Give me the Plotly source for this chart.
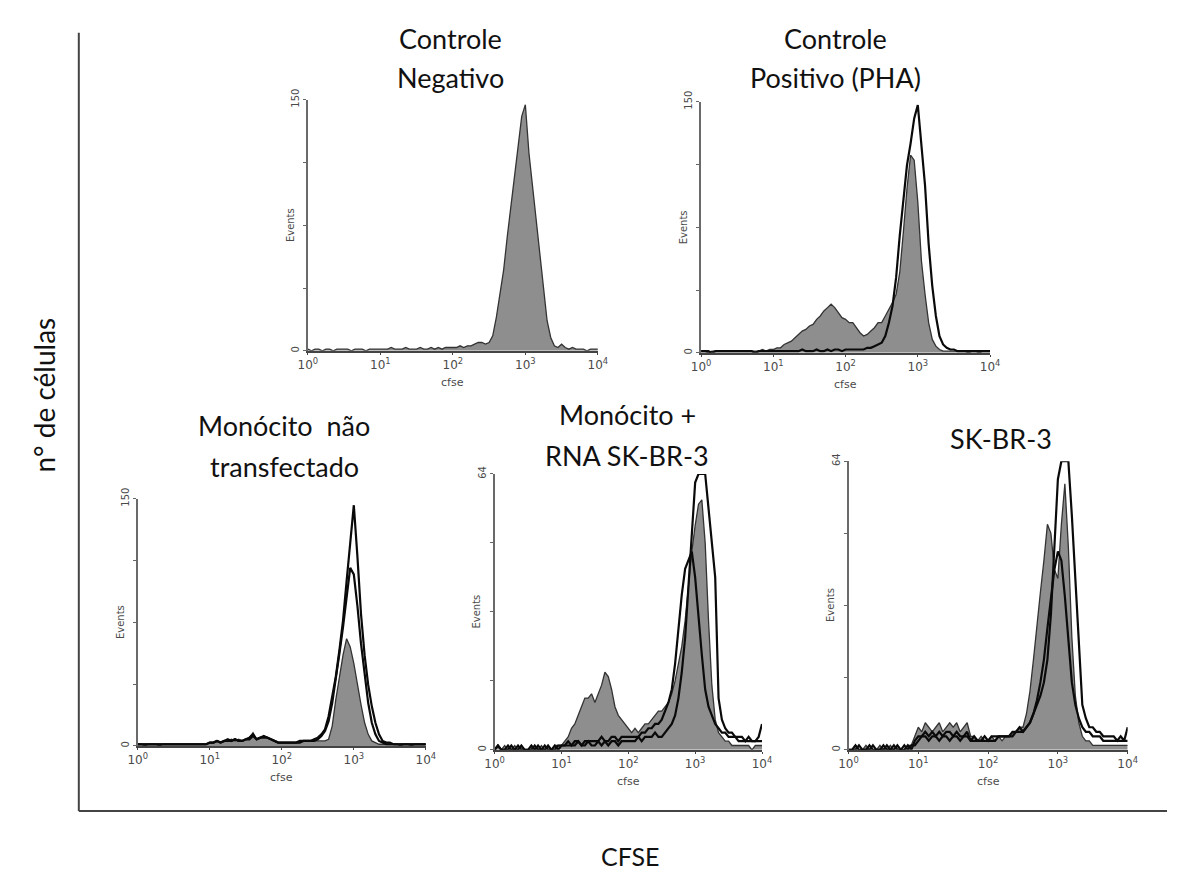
import plotly.graph_objects as go

# ---------------- data ----------------
# CFSE histogram bins (log10 of fluorescence), 0.05-decade bins from 10^0 to 10^4
CFSE_LOG10_BINS = [round(0.05 * i, 2) for i in range(81)]
X_TICK_VALUES = [1, 10, 100, 1000, 10000]
X_TICK_LABELS = ["10<sup>0</sup>", "10<sup>1</sup>", "10<sup>2</sup>", "10<sup>3</sup>", "10<sup>4</sup>"]

# Panel 1: Controle Negativo (Events, max 150)
NEG_GREY = [1, 0, 1, 1, 0, 1, 1, 0, 1, 1,
            1, 1, 0, 1, 1, 1, 0, 1, 1, 1,
            1, 1, 1, 2, 1, 1, 1, 2, 1, 1,
            1, 2, 1, 1, 2, 1, 2, 1, 2, 2,
            2, 2, 3, 2, 3, 3, 4, 5, 5, 4,
            5, 9, 20, 33, 48, 68, 85, 102, 122, 140,
            147, 118, 98, 75, 55, 35, 18, 8, 3, 2,
            4, 2, 1, 2, 1, 1, 1, 0, 1, 1,
            1]

# Panel 2: Controle Positivo (PHA)
PHA_GREY = [1, 1, 0, 1, 1, 1, 1, 1, 1, 1,
            1, 1, 1, 1, 1, 1, 1, 2, 1, 2,
            2, 3, 3, 5, 6, 7, 9, 11, 13, 14,
            16, 17, 20, 22, 25, 27, 29, 27, 24, 21,
            20, 18, 18, 15, 12, 10, 11, 13, 15, 18,
            18, 22, 26, 30, 35, 48, 72, 98, 118, 115,
            90, 55, 35, 18, 8, 4, 2, 1, 1, 1,
            1, 1, 1, 1, 0, 1, 1, 0, 1, 1,
            1]
PHA_BLACK = [1, 1, 1, 0, 1, 1, 1, 1, 1, 1,
             1, 1, 1, 1, 1, 0, 1, 1, 1, 1,
             1, 1, 1, 1, 1, 1, 1, 1, 2, 1,
             1, 1, 2, 1, 1, 2, 1, 2, 2, 1,
             2, 2, 2, 2, 2, 2, 3, 3, 4, 5,
             6, 10, 18, 28, 45, 70, 92, 112, 125, 140,
             148, 125, 100, 65, 40, 22, 10, 5, 3, 2,
             2, 1, 1, 1, 1, 1, 1, 1, 1, 1,
             1]

# Panel 3: Monócito não transfectado
MONO_GREY = [1, 1, 0, 1, 1, 1, 0, 1, 1, 1,
             1, 1, 1, 1, 1, 1, 1, 1, 1, 1,
             2, 2, 3, 2, 3, 3, 4, 3, 4, 3,
             4, 5, 8, 4, 5, 6, 5, 4, 3, 2,
             2, 2, 2, 2, 2, 2, 3, 3, 3, 3,
             3, 3, 3, 4, 12, 28, 42, 55, 65, 60,
             50, 37, 25, 14, 7, 3, 2, 1, 1, 1,
             1, 1, 1, 0, 1, 1, 0, 1, 1, 1,
             1]
MONO_BLACK_OUTER = [1, 1, 1, 1, 1, 1, 1, 1, 1, 1,
                    1, 1, 1, 1, 1, 1, 1, 1, 1, 1,
                    2, 2, 3, 2, 3, 4, 3, 4, 3, 3,
                    4, 5, 7, 4, 5, 6, 5, 4, 3, 2,
                    2, 2, 2, 2, 2, 3, 3, 3, 3, 4,
                    5, 7, 10, 18, 30, 42, 58, 76, 100, 125,
                    146, 115, 80, 55, 37, 24, 14, 7, 3, 2,
                    2, 1, 1, 1, 1, 1, 1, 1, 1, 1,
                    1]
MONO_BLACK_INNER = [1, 1, 1, 1, 1, 1, 1, 1, 1, 1,
                    1, 1, 1, 1, 1, 1, 1, 1, 1, 1,
                    2, 2, 3, 2, 3, 3, 3, 4, 3, 3,
                    4, 4, 6, 4, 5, 5, 5, 4, 3, 2,
                    2, 2, 2, 2, 2, 2, 3, 3, 3, 3,
                    4, 6, 9, 15, 26, 40, 56, 72, 90, 108,
                    104, 85, 62, 42, 26, 14, 7, 3, 2, 1,
                    1, 1, 1, 1, 1, 1, 1, 1, 1, 1,
                    1]

# Panel 4: Monócito + RNA SK-BR-3 (Events, max 64)
RNA_GREY = [0, 1, 0, 1, 0, 0, 1, 0, 1, 0,
            0, 1, 0, 0, 1, 0, 1, 0, 1, 1,
            1, 2, 3, 5, 6, 8, 10, 12, 12, 13,
            11, 13, 15, 18, 17, 14, 10, 8, 7, 6,
            5, 4, 5, 4, 5, 6, 6, 7, 8, 9,
            9, 10, 11, 13, 16, 20, 24, 30, 38, 46,
            52, 57, 58, 48, 30, 15, 7, 4, 3, 2,
            2, 1, 1, 1, 1, 1, 1, 0, 1, 1,
            1]
RNA_BLACK_A = [0, 1, 0, 0, 1, 0, 0, 1, 0, 0,
               0, 0, 1, 0, 0, 1, 0, 0, 1, 0,
               1, 1, 1, 1, 1, 2, 1, 1, 2, 1,
               1, 2, 1, 2, 1, 2, 2, 1, 2, 2,
               2, 2, 2, 3, 2, 3, 3, 3, 4, 3,
               3, 4, 5, 6, 8, 12, 18, 26, 38, 50,
               62, 64, 64, 64, 56, 48, 40, 12, 7, 5,
               4, 4, 3, 3, 3, 2, 3, 2, 2, 3,
               6]
RNA_BLACK_B = [0, 1, 0, 0, 0, 1, 0, 0, 1, 0,
               0, 1, 0, 1, 0, 0, 1, 0, 0, 1,
               1, 1, 2, 1, 2, 2, 1, 2, 2, 2,
               2, 2, 3, 2, 2, 3, 3, 2, 3, 3,
               3, 3, 3, 3, 4, 4, 5, 5, 6, 6,
               7, 9, 11, 14, 20, 28, 36, 42, 44, 46,
               40, 30, 22, 14, 10, 8, 6, 5, 4, 4,
               3, 3, 3, 2, 2, 2, 2, 2, 2, 2,
               2]

# Panel 5: SK-BR-3 (Events, max 64)
SK_GREY = [0, 0, 1, 0, 0, 1, 0, 0, 0, 1,
           0, 0, 1, 0, 1, 0, 0, 1, 1, 3,
           5, 4, 6, 5, 4, 5, 6, 4, 5, 6,
           5, 6, 4, 5, 6, 3, 3, 2, 3, 2,
           2, 3, 2, 3, 2, 3, 3, 4, 4, 5,
           5, 8, 13, 20, 28, 35, 42, 50, 48, 40,
           38, 50, 59, 45, 25, 12, 6, 3, 2, 2,
           1, 1, 1, 1, 1, 1, 1, 1, 1, 1,
           1]
SK_BLACK_A = [0, 0, 1, 0, 0, 0, 1, 0, 0, 0,
              0, 1, 0, 0, 1, 0, 0, 1, 0, 2,
              3, 3, 4, 3, 4, 3, 4, 3, 4, 4,
              3, 4, 3, 3, 4, 2, 3, 2, 2, 3,
              2, 3, 3, 3, 3, 3, 3, 4, 4, 5,
              4, 5, 6, 8, 10, 12, 15, 20, 30, 45,
              60, 64, 64, 64, 52, 38, 22, 10, 7, 5,
              5, 4, 4, 3, 3, 3, 3, 2, 3, 2,
              5]
SK_BLACK_B = [0, 0, 0, 1, 0, 0, 0, 1, 0, 0,
              1, 0, 0, 1, 0, 0, 1, 0, 1, 1,
              2, 3, 3, 2, 3, 3, 2, 3, 3, 2,
              3, 3, 2, 3, 3, 2, 2, 2, 2, 2,
              2, 2, 2, 3, 3, 3, 3, 3, 4, 4,
              4, 5, 6, 8, 11, 15, 20, 27, 34, 40,
              44, 42, 34, 24, 15, 10, 7, 5, 4, 4,
              3, 3, 3, 2, 2, 2, 2, 2, 2, 2,
              2]

PANEL_TITLES = [["Controle", "Negativo"],
                ["Controle", "Positivo (PHA)"],
                ["Monócito  não", "transfectado"],
                ["Monócito +", "RNA SK-BR-3"],
                ["SK-BR-3"]]
PANEL_YMAX = [150, 150, 150, 64, 64]
PANEL_GREY = [NEG_GREY, PHA_GREY, MONO_GREY, RNA_GREY, SK_GREY]
PANEL_BLACK = [[], [PHA_BLACK], [MONO_BLACK_OUTER, MONO_BLACK_INNER],
               [RNA_BLACK_A, RNA_BLACK_B], [SK_BLACK_A, SK_BLACK_B]]

# ---------------- layout geometry ----------------
W, H = 1177, 872
# pixel boxes (left, top, right, bottom) of each histogram's plot area
BOXES = [(303, 90, 598, 345), (703, 92, 997, 347), (130, 495, 423, 746),
         (493, 470, 765, 750), (853, 457, 1137, 750)]
# title line positions (center x, center y) in pixels
TITLE_POS = [[(448, 28), (448, 68)], [(840, 28), (840, 68)],
             [(279, 421), (279, 462)], [(628, 410), (628, 451)], [(1008, 434)]]

FONT = "Lato, 'Open Sans', sans-serif"
x_vals = [10 ** v for v in CFSE_LOG10_BINS]

fig = go.Figure()
layout = dict(width=W, height=H, margin=dict(l=0, r=0, t=0, b=0),
              paper_bgcolor="white", plot_bgcolor="white", showlegend=False)
annotations = []

for k in range(5):
    n = k + 1
    xa = "x" if n == 1 else f"x{n}"
    ya = "y" if n == 1 else f"y{n}"
    fig.add_trace(go.Scatter(x=x_vals, y=PANEL_GREY[k], mode="lines", fill="tozeroy",
                             fillcolor="#8e8e8e", line=dict(color="#333333", width=1.3),
                             xaxis=xa, yaxis=ya, hoverinfo="skip"))
    for series in PANEL_BLACK[k]:
        fig.add_trace(go.Scatter(x=x_vals, y=series, mode="lines",
                                 line=dict(color="#0a0a0a", width=2.2),
                                 xaxis=xa, yaxis=ya, hoverinfo="skip"))
    l, t, r, b = BOXES[k]
    ymax = PANEL_YMAX[k]
    layout["xaxis" if n == 1 else f"xaxis{n}"] = dict(
        domain=[l / W, r / W], anchor=ya, type="log", range=[0, 4],
        tickvals=X_TICK_VALUES, ticktext=X_TICK_LABELS,
        showline=True, linecolor="#444", linewidth=1.5, ticks="outside", ticklen=2,
        tickcolor="#444", tickfont=dict(family="DejaVu Sans", size=12, color="#4a4a4a"),
        showgrid=False, zeroline=False)
    layout["yaxis" if n == 1 else f"yaxis{n}"] = dict(
        domain=[1 - b / H, 1 - t / H], anchor=xa, range=[0, ymax],
        tickvals=[0, ymax / 4, ymax / 2, 3 * ymax / 4, ymax],
        ticktext=["0", "", "", "", str(ymax)], tickangle=-90,
        showline=True, linecolor="#6a6a6a", linewidth=2, ticks="outside", ticklen=3,
        tickcolor="#666", tickfont=dict(family="DejaVu Sans", size=10, color="#4a4a4a"),
        showgrid=False, zeroline=False)
    annotations.append(dict(text="Events", xref=f"{xa} domain", yref=f"{ya} domain",
                            x=0, y=0.5, xanchor="center", yanchor="middle", xshift=-18,
                            textangle=-90, showarrow=False,
                            font=dict(family="DejaVu Sans", size=10, color="#4a4a4a")))
    annotations.append(dict(text="cfse", xref=f"{xa} domain", yref=f"{ya} domain",
                            x=0.5, y=0, xanchor="center", yanchor="middle", yshift=-32,
                            showarrow=False,
                            font=dict(family="DejaVu Sans", size=11, color="#4a4a4a")))
    for line_text, (cx, cy) in zip(PANEL_TITLES[k], TITLE_POS[k]):
        annotations.append(dict(text=line_text, xref="paper", yref="paper",
                                x=cx / W, y=1 - cy / H, xanchor="center", yanchor="middle",
                                showarrow=False, font=dict(family=FONT, size=27, color="#111")))

annotations.append(dict(text="n° de células", xref="paper", yref="paper",
                        x=35 / W, y=1 - 390 / H, xanchor="center", yanchor="middle",
                        textangle=-90, showarrow=False,
                        font=dict(family=FONT, size=28, color="#111")))
annotations.append(dict(text="CFSE", xref="paper", yref="paper",
                        x=631 / W, y=1 - 858 / H, xanchor="center", yanchor="middle",
                        showarrow=False, font=dict(family=FONT, size=25, color="#111")))

layout["annotations"] = annotations
layout["shapes"] = [
    dict(type="line", xref="paper", yref="paper", x0=70 / W, x1=70 / W,
         y0=1 - 22 / H, y1=1 - 812 / H, line=dict(color="#444", width=2)),
    dict(type="line", xref="paper", yref="paper", x0=70 / W, x1=1.0,
         y0=1 - 812 / H, y1=1 - 812 / H, line=dict(color="#444", width=2)),
]
fig.update_layout(**layout)
fig.write_html("out.html")
